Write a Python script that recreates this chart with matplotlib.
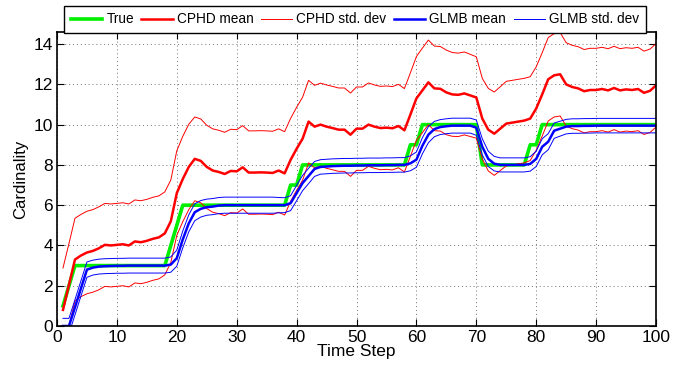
import numpy as np
import matplotlib.pyplot as plt

plt.rcParams['font.family'] = ['Liberation Sans', 'DejaVu Sans']

# time steps 1..100
k = np.arange(1, 101)

true_card = [1, 2] + [3] * 16 + [4, 5] + [6] * 18 + [7, 7] + [8] * 18 + [9, 9] + [10] * 10 \
    + [8] * 8 + [9, 9] + [10] * 20

cphd_mean = [0.8, 2.05, 3.3, 3.5, 3.65, 3.73, 3.86, 4.03, 4.0, 4.03,
             4.06, 4.0, 4.2, 4.16, 4.23, 4.33, 4.4, 4.6, 5.2, 6.6,
             7.3, 7.9, 8.3, 8.2, 7.9, 7.72, 7.65, 7.55, 7.7, 7.68,
             7.88, 7.62, 7.62, 7.63, 7.62, 7.6, 7.72, 7.58, 8.25, 8.8,
             9.3, 10.15, 9.9, 10.0, 9.9, 9.83, 9.75, 9.75, 9.5, 9.8,
             9.8, 10.0, 9.9, 9.83, 9.85, 9.82, 9.93, 9.72, 10.5, 11.3,
             11.7, 12.1, 11.8, 11.78, 11.6, 11.5, 11.48, 11.55, 11.45, 11.35,
             10.3, 9.75, 9.55, 9.8, 10.05, 10.1, 10.15, 10.2, 10.3, 10.8,
             11.5, 12.25, 12.45, 12.5, 12.0, 11.87, 11.8, 11.66, 11.72, 11.72,
             11.77, 11.7, 11.82, 11.7, 11.75, 11.72, 11.77, 11.58, 11.68, 11.95]

cphd_std = [2.08, 2.05, 2.05, 2.04, 2.05, 2.05, 2.06, 2.06, 2.06, 2.06,
            2.06, 2.06, 2.06, 2.06, 2.06, 2.06, 2.06, 2.06, 2.05, 2.1,
            2.12, 2.12, 2.08, 2.08, 2.07, 2.07, 2.07, 2.07, 2.07, 2.07,
            2.07, 2.07, 2.07, 2.07, 2.07, 2.07, 2.07, 2.07, 2.06, 2.06,
            2.06, 2.05, 2.05, 2.06, 2.07, 2.07, 2.07, 2.07, 2.07, 2.07,
            2.07, 2.07, 2.07, 2.07, 2.07, 2.07, 2.07, 2.07, 2.07, 2.08,
            2.1, 2.1, 2.1, 2.1, 2.1, 2.08, 2.07, 2.06, 2.04, 2.02,
            2.0, 2.05, 2.07, 2.08, 2.1, 2.1, 2.1, 2.1, 2.08, 2.07,
            2.07, 2.07, 2.07, 2.07, 2.07, 2.07, 2.07, 2.07, 2.07, 2.07,
            2.07, 2.07, 2.07, 2.07, 2.07, 2.07, 2.07, 2.07, 2.07, 2.07]

glmb_mean = [0.0, 0.0, 0.93, 1.87, 2.8, 2.9, 2.95, 2.97, 2.98, 2.99,
             2.99, 3.0, 3.0, 3.0, 3.0, 3.0, 3.0, 3.0, 3.05, 3.37,
             4.3, 5.1, 5.65, 5.82, 5.9, 5.93, 5.98, 6.0, 6.0, 6.0,
             6.0, 6.0, 6.0, 6.0, 6.0, 6.0, 6.0, 6.0, 6.1, 6.6,
             7.1, 7.45, 7.8, 7.9, 7.92, 7.94, 7.95, 7.96, 7.96, 7.97,
             7.97, 7.98, 7.98, 7.98, 7.99, 7.99, 8.0, 8.0, 8.08, 8.26,
             8.95, 9.5, 9.78, 9.88, 9.92, 9.95, 9.95, 9.95, 9.95, 9.85,
             8.9, 8.3, 8.06, 8.0, 8.0, 8.0, 8.0, 8.0, 8.05, 8.3,
             8.9, 9.15, 9.7, 9.8, 9.9, 9.93, 9.93, 9.94, 9.94, 9.95,
             9.95, 9.95, 9.95, 9.95, 9.95, 9.95, 9.95, 9.95, 9.95, 9.95]

glmb_std = [0.38, 0.38, 0.38, 0.38, 0.38, 0.37, 0.37, 0.37, 0.37, 0.37,
            0.37, 0.37, 0.37, 0.37, 0.37, 0.37, 0.37, 0.37, 0.38, 0.4,
            0.42, 0.42, 0.42, 0.41, 0.4, 0.4, 0.4, 0.4, 0.4, 0.4,
            0.4, 0.4, 0.4, 0.4, 0.4, 0.4, 0.38, 0.37, 0.37, 0.38,
            0.38, 0.38, 0.37, 0.36, 0.36, 0.36, 0.36, 0.36, 0.36, 0.36,
            0.36, 0.36, 0.36, 0.36, 0.36, 0.36, 0.36, 0.36, 0.37, 0.38,
            0.4, 0.4, 0.38, 0.37, 0.37, 0.37, 0.37, 0.37, 0.37, 0.38,
            0.4, 0.38, 0.36, 0.35, 0.35, 0.35, 0.35, 0.35, 0.36, 0.38,
            0.4, 0.4, 0.38, 0.37, 0.36, 0.36, 0.36, 0.36, 0.36, 0.36,
            0.36, 0.36, 0.36, 0.36, 0.36, 0.36, 0.36, 0.36, 0.36, 0.36]

cm = np.array(cphd_mean)
cs = np.array(cphd_std)
gm = np.array(glmb_mean)
gs = np.array(glmb_std)

fig = plt.figure(figsize=(6.81, 3.68), dpi=100)
ax = fig.add_axes([57 / 681, 42 / 368, 599 / 681, 294 / 368])

h1, = ax.plot(k, true_card, color='#00ee00', lw=2.6)
h2, = ax.plot(k, cm, color='red', lw=1.8)
h3, = ax.plot(k, cm + cs, color='red', lw=0.7)
ax.plot(k, cm - cs, color='red', lw=0.7)
h4, = ax.plot(k, gm, color='blue', lw=1.8)
h5, = ax.plot(k, gm + gs, color='blue', lw=0.7)
ax.plot(k, gm - gs, color='blue', lw=0.7)

ax.set_xlim(0, 100)
ax.set_ylim(0, 14.6)
ax.set_xticks(range(0, 101, 10))
ax.set_yticks(range(0, 15, 2))
ax.grid(True, linestyle=(0, (1, 3)), color='0.45', linewidth=0.7)
ax.tick_params(direction='in', top=True, right=True, length=5, width=0.8,
               labelsize=12.5, pad=3)
for s in ax.spines.values():
    s.set_linewidth(1.2)
ax.set_xlabel('Time Step', fontsize=12.5, labelpad=-1)
ax.set_ylabel('Cardinality', fontsize=12, labelpad=4)

leg = fig.legend([h1, h2, h3, h4, h5],
                 ['True', 'CPHD mean', 'CPHD std. dev', 'GLMB mean', 'GLMB std. dev'],
                 loc='upper center', bbox_to_anchor=(355 / 681, 362.5 / 368), ncol=5,
                 fontsize=9.8, fancybox=False, edgecolor='black', framealpha=1,
                 handlelength=2.3, handletextpad=0.3, columnspacing=0.55,
                 borderpad=0.5, borderaxespad=0)
leg.get_frame().set_linewidth(1.0)

fig.savefig('out.png', dpi=100)
